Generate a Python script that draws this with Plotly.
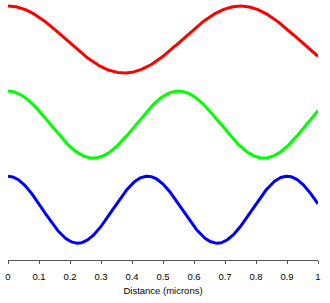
import numpy as np
import plotly.graph_objects as go

# Wavelengths (microns) of the three waves
names = ["Red", "Green", "Blue"]
wavelengths = [0.75, 0.55, 0.45]
colors = ["#ff0000", "#00ff00", "#0000ff"]
offsets = [0.0, -2.54, -5.08]   # vertical stacking of the waves
tick_vals = [0, 0.1, 0.2, 0.3, 0.4, 0.5, 0.6, 0.7, 0.8, 0.9, 1]
tick_text = ["0", "0.1", "0.2", "0.3", "0.4", "0.5", "0.6", "0.7", "0.8", "0.9", "1"]

x = np.linspace(0, 1, 600)

fig = go.Figure()
for n, wl, c, off in zip(names, wavelengths, colors, offsets):
    fig.add_trace(go.Scatter(x=x, y=np.cos(2 * np.pi * x / wl) + off, mode="lines",
                             name=n, line=dict(color=c, width=3), hoverinfo="skip"))

fig.update_layout(
    width=330, height=303,
    margin=dict(l=8, r=12, t=0, b=43),
    paper_bgcolor="white", plot_bgcolor="white",
    showlegend=False,
    font=dict(family="Liberation Sans, Arial, sans-serif", size=9.5, color="#000"),
    xaxis=dict(range=[0, 1], tickvals=tick_vals, ticktext=tick_text,
               showgrid=False, zeroline=False, showline=True, linecolor="#555",
               linewidth=1, ticks="outside", ticklen=3, tickcolor="#555",
               ticklabelstandoff=5,
               title=dict(text="Distance (microns)", standoff=5,
                          font=dict(size=9.5))),
    yaxis=dict(range=[-6.582, 1.179], visible=False, showgrid=False, zeroline=False),
)

fig.write_html("out.html")
